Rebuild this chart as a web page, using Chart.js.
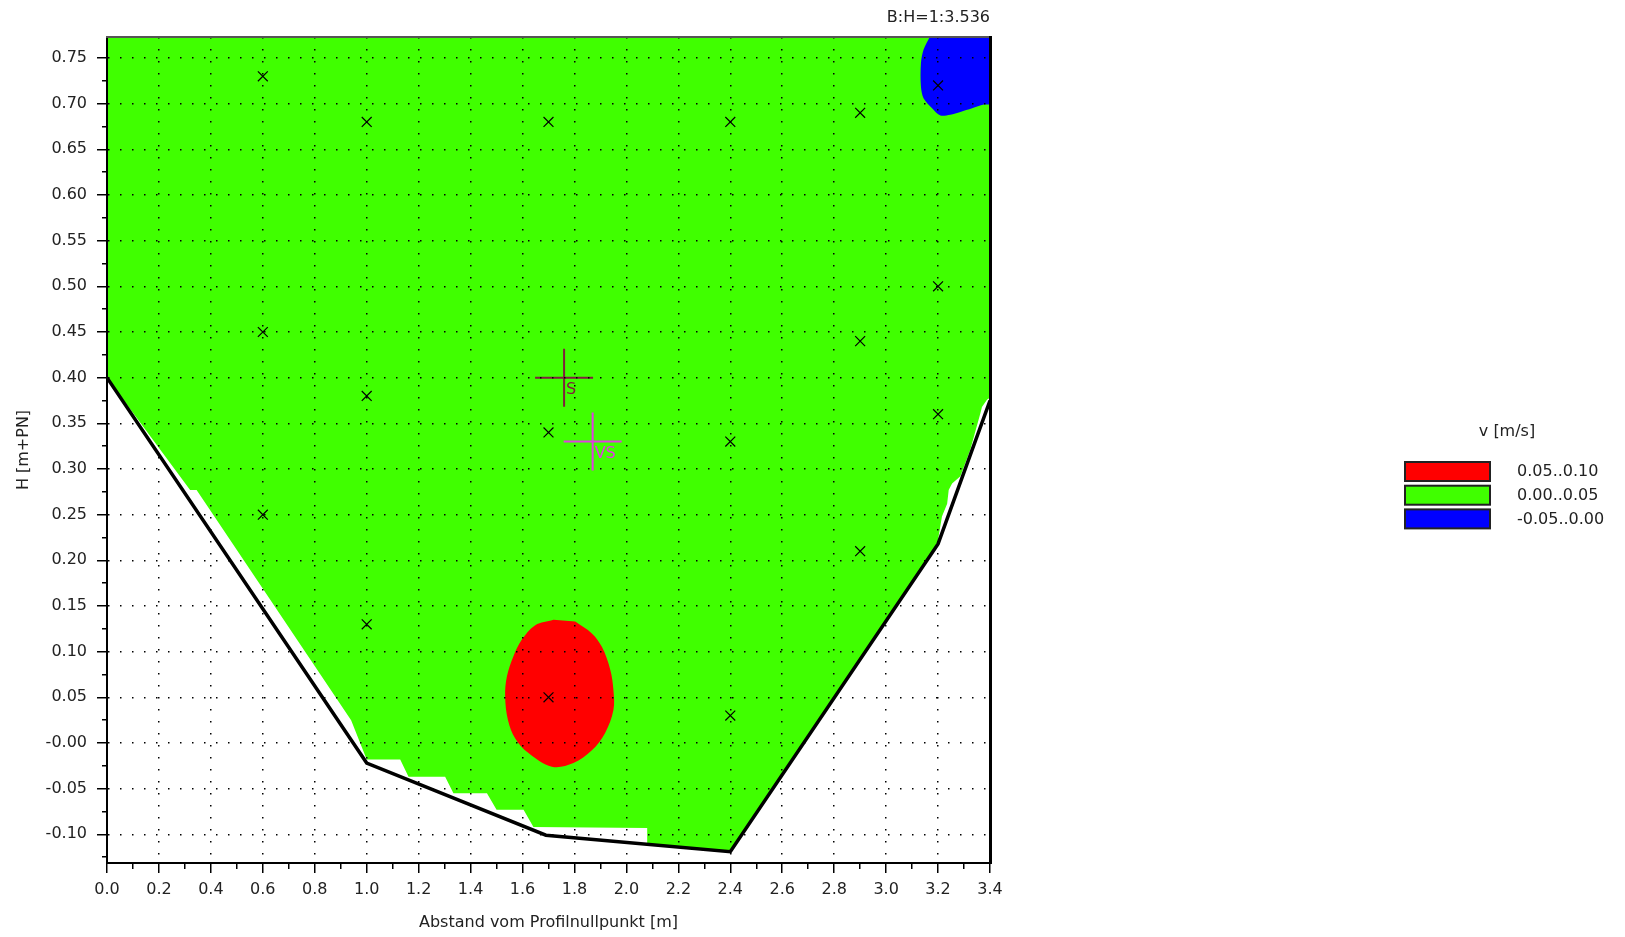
<!DOCTYPE html>
<html>
<head>
<meta charset="utf-8">
<title>Geschwindigkeitsverteilung Profil</title>
<script src="https://cdn.jsdelivr.net/npm/chart.js@4.4.1/dist/chart.umd.min.js"></script>
<style>
  html, body { margin: 0; padding: 0; background: #fff; }
  #wrap { width: 1625px; height: 937px; }
</style>
</head>
<body>
<div id="wrap"><canvas id="profileChart" width="1625" height="937"></canvas></div>
<script>
// measurement points (x = Abstand, y = Hoehe)
const measX = [0.6, 0.6, 0.6, 1.0, 1.0, 1.0, 1.7, 1.7, 1.7, 2.4, 2.4, 2.4, 2.9, 2.9, 2.9, 3.2, 3.2, 3.2];
const measY = [0.73, 0.45, 0.25, 0.68, 0.38, 0.13, 0.68, 0.34, 0.05, 0.68, 0.33, 0.03, 0.69, 0.44, 0.21, 0.72, 0.50, 0.36];

// cross section (Profil)
const profileX = [0, 1.0, 1.69, 2.40, 3.20, 3.40];
const profileY = [0.40, -0.022, -0.101, -0.119, 0.218, 0.375];

// S and VS markers
const specialX = [1.76, 1.87];
const specialY = [0.40, 0.33];
const specialLabels = ['S', 'VS'];
const specialColors = ['#80203c', '#e23ce2'];

// contour class 0.00..0.05 (green)
const greenX = [0, 3.4, 3.4, 3.389, 3.369, 3.363, 3.324, 3.286, 3.254, 3.241, 3.235, 3.215, 3.202, 3.2, 2.40, 2.08, 2.08,
  1.642, 1.604, 1.50, 1.463, 1.334, 1.302, 1.161, 1.129, 1.0, 0.94, 0.345, 0.32, 0];
const greenY = [0.773, 0.773, 0.378, 0.376, 0.368, 0.361, 0.321, 0.292, 0.284, 0.277, 0.262, 0.248, 0.226, 0.218, -0.119, -0.111, -0.093,
  -0.092, -0.073, -0.073, -0.055, -0.055, -0.037, -0.037, -0.018, -0.018, 0.025, 0.277, 0.277, 0.40];

// contour class 0.05..0.10 (red)
const redX = [1.719, 1.649, 1.597, 1.565, 1.540, 1.533, 1.544, 1.572, 1.623, 1.713, 1.796, 1.867, 1.918, 1.950, 1.950, 1.938, 1.906, 1.867, 1.803];
const redY = [0.135, 0.129, 0.113, 0.095, 0.073, 0.051, 0.025, 0.005, -0.011, -0.026, -0.022, -0.008, 0.011, 0.036, 0.058, 0.080, 0.105, 0.120, 0.133];

// contour class -0.05..0.00 (blue)
const blueX = [3.168, 3.144, 3.134, 3.134, 3.144, 3.177, 3.209, 3.247, 3.286, 3.331, 3.376, 3.4, 3.4];
const blueY = [0.773, 0.759, 0.744, 0.719, 0.706, 0.695, 0.687, 0.688, 0.691, 0.695, 0.699, 0.700, 0.773];

// ticks
const xTickValues = [0, 0.2, 0.4, 0.6, 0.8, 1.0, 1.2, 1.4, 1.6, 1.8, 2.0, 2.2, 2.4, 2.6, 2.8, 3.0, 3.2, 3.4];
const xTickLabels = ['0.0', '0.2', '0.4', '0.6', '0.8', '1.0', '1.2', '1.4', '1.6', '1.8', '2.0', '2.2', '2.4', '2.6', '2.8', '3.0', '3.2', '3.4'];
const yTickValues = [-0.10, -0.05, 0, 0.05, 0.10, 0.15, 0.20, 0.25, 0.30, 0.35, 0.40, 0.45, 0.50, 0.55, 0.60, 0.65, 0.70, 0.75];
const yTickLabels = ['-0.10', '-0.05', '-0.00', '0.05', '0.10', '0.15', '0.20', '0.25', '0.30', '0.35', '0.40', '0.45', '0.50', '0.55', '0.60', '0.65', '0.70', '0.75'];

// legend
const legendTitle = 'v [m/s]';
const legendLabels = ['0.05..0.10', '0.00..0.05', '-0.05..0.00'];
const legendColors = ['#ff0000', '#40ff00', '#0000ff'];

const xMin = 0, xMax = 3.4, yMin = -0.1314, yMax = 0.773;

function pts(xs, ys) {
    return xs.map((x, i) => ({ x: x, y: ys[i] }));
}

// major ticks plus a minor tick half way in between
function withMinors(vals, min, max) {
    const step = vals[1] - vals[0];
    const out = vals.map(v => ({ value: v }));
    for (let i = -1; i < vals.length; i++) {
        const m = vals[0] + (i + 0.5) * step;
        if (m >= min - 1e-9 && m <= max + 1e-9) out.push({ value: m, minor: true });
    }
    return out.sort((a, b) => a.value - b.value);
}

function labelFor(v, vals, labels) {
    const i = vals.findIndex(t => Math.abs(t - v) < 1e-6);
    return i >= 0 ? labels[i] : '';
}

const isMinor = c => c.tick && c.tick.minor;

const extras = {
    id: 'extras',
    afterDraw(chart) {
        const ctx = chart.ctx;
        ctx.save();
        ctx.font = '16px "DejaVu Sans"';
        ctx.textBaseline = 'middle';

        // marker labels S / VS
        const meta = chart.getDatasetMeta(1);
        meta.data.forEach((p, i) => {
            ctx.fillStyle = specialColors[i];
            ctx.textAlign = 'left';
            ctx.fillText(specialLabels[i], p.x + 2, p.y + 12);
        });

        // legend
        ctx.fillStyle = '#222';
        ctx.textAlign = 'center';
        ctx.fillText(legendTitle, 1507, 432);
        legendLabels.forEach((lab, i) => {
            const top = 462 + i * 23.7;
            ctx.fillStyle = legendColors[i];
            ctx.fillRect(1405, top, 85, 19);
            ctx.lineWidth = 2;
            ctx.strokeStyle = '#222';
            ctx.strokeRect(1405, top, 85, 19);
            ctx.fillStyle = '#222';
            ctx.textAlign = 'left';
            ctx.fillText(lab, 1517, top + 10);
        });
        ctx.restore();
    }
};

Chart.defaults.font.family = '"DejaVu Sans", sans-serif';
Chart.defaults.font.size = 16;
Chart.defaults.color = '#222';

const ctx = document.getElementById('profileChart').getContext('2d');

const polyStyle = { fill: 'shape', borderColor: 'rgba(0,0,0,0)', borderWidth: 0, pointRadius: 0 };

new Chart(ctx, {
    type: 'line',
    data: {
        datasets: [
            {
                label: 'Messpunkte',
                data: pts(measX, measY),
                showLine: false,
                pointStyle: 'crossRot',
                pointRadius: 7,
                pointBorderColor: '#000',
                pointBorderWidth: 1.2,
                order: 0
            },
            {
                label: 'S / VS',
                data: pts(specialX, specialY),
                showLine: false,
                pointStyle: 'cross',
                pointRadius: 29,
                pointBorderColor: specialColors,
                pointBorderWidth: 2,
                order: 1
            },
            {
                label: 'Profil',
                data: pts(profileX, profileY),
                borderColor: '#000',
                borderWidth: 3.5,
                pointRadius: 0,
                fill: false,
                order: 2
            },
            Object.assign({ label: legendLabels[0], data: pts(redX, redY), backgroundColor: legendColors[0], tension: 0.35, order: 3 }, polyStyle),
            Object.assign({ label: legendLabels[2], data: pts(blueX, blueY), backgroundColor: legendColors[2], tension: 0.3, order: 4 }, polyStyle),
            Object.assign({ label: legendLabels[1], data: pts(greenX, greenY), backgroundColor: legendColors[1], order: 5 }, polyStyle)
        ]
    },
    options: {
        responsive: false,
        animation: false,
        events: [],
        layout: { padding: { left: 0, right: 635, top: 0, bottom: 0 } },
        plugins: {
            legend: { display: false },
            tooltip: { enabled: false }
        },
        scales: {
            x: {
                type: 'linear',
                position: 'bottom',
                min: xMin,
                max: xMax,
                afterFit: s => { s.height = 74; },
                afterBuildTicks: s => { s.ticks = withMinors(xTickValues, xMin, xMax); },
                ticks: {
                    autoSkip: false,
                    maxRotation: 0,
                    padding: 7,
                    z: 1,
                    callback: v => labelFor(v, xTickValues, xTickLabels)
                },
                grid: {
                    z: 1,
                    color: c => isMinor(c) ? 'rgba(0,0,0,0)' : '#000',
                    lineWidth: 1.5,
                    tickLength: 10,
                    tickColor: '#000',
                    tickWidth: 1.5,
                    tickBorderDash: c => isMinor(c) ? [5, 100] : []
                },
                border: { display: true, z: 1, color: '#000', width: 2, dash: [1.5, 10.5] },
                title: {
                    display: true,
                    text: 'Abstand vom Profilnullpunkt [m]',
                    padding: { top: 0, bottom: 5 }
                }
            },
            y: {
                type: 'linear',
                position: 'left',
                min: yMin,
                max: yMax,
                afterFit: s => { s.width = 107; },
                afterBuildTicks: s => { s.ticks = withMinors(yTickValues, yMin, yMax); },
                ticks: {
                    autoSkip: false,
                    padding: 10,
                    z: 1,
                    callback: v => labelFor(v, yTickValues, yTickLabels)
                },
                grid: {
                    z: 1,
                    color: c => isMinor(c) ? 'rgba(0,0,0,0)' : '#000',
                    lineWidth: 1.5,
                    tickLength: 10,
                    tickColor: '#000',
                    tickWidth: 1.5,
                    tickBorderDash: c => isMinor(c) ? [0, 5, 5, 100] : []
                },
                border: { display: true, z: 1, color: '#000', width: 2, dash: [1.5, 10.5] },
                title: {
                    display: true,
                    text: 'H [m+PN]',
                    padding: { top: 14, bottom: 0 }
                }
            },
            x2: {
                type: 'linear',
                position: 'top',
                min: xMin,
                max: xMax,
                afterFit: s => { s.height = 37; },
                ticks: { display: false },
                grid: { display: false },
                border: { display: true, z: 1, color: '#555', width: 2 },
                title: {
                    display: true,
                    text: 'B:H=1:3.536',
                    align: 'end',
                    padding: { top: 8, bottom: 0 }
                }
            },
            y2: {
                type: 'linear',
                position: 'right',
                min: yMin,
                max: yMax,
                afterFit: s => { s.width = 0; },
                ticks: { display: false },
                grid: { display: false },
                border: { display: true, z: 1, color: '#000', width: 3 }
            }
        }
    },
    plugins: [extras]
});
</script>
</body>
</html>
